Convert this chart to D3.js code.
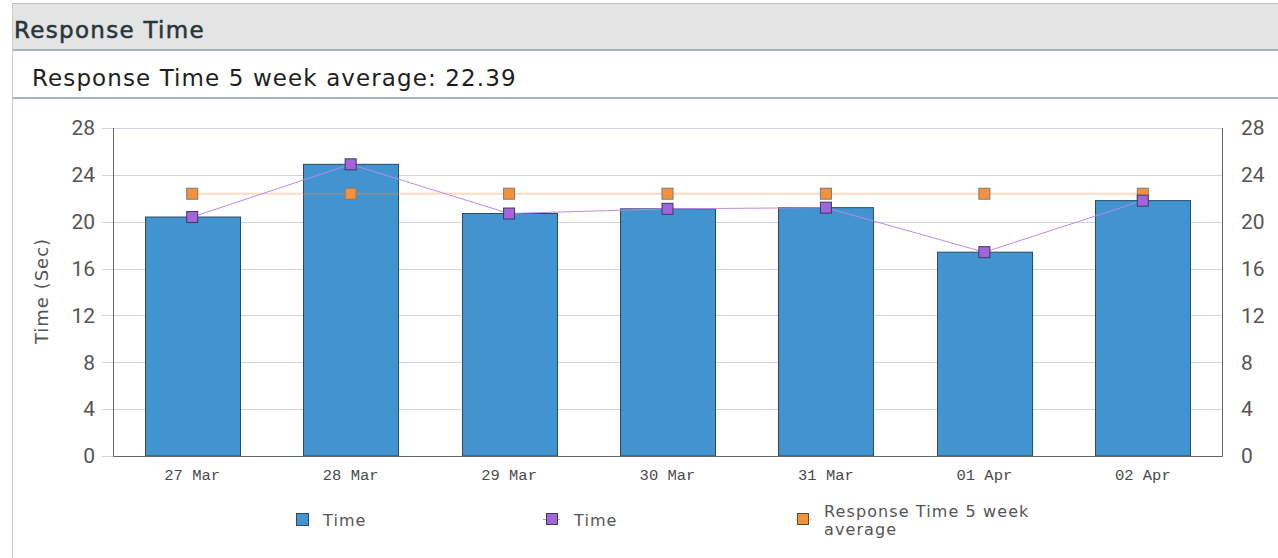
<!DOCTYPE html>
<html>
<head>
<meta charset="utf-8">
<script src="https://cdn.jsdelivr.net/npm/d3@7"></script>
<style>
  body { margin: 0; background: #fff; }
  svg { display: block; }
</style>
</head>
<body>
<svg width="1278" height="558"></svg>
<script>
// chart data
var days = ['27 Mar', '28 Mar', '29 Mar', '30 Mar', '31 Mar', '01 Apr', '02 Apr'];
var timeValues = [20.4, 24.9, 20.7, 21.1, 21.2, 17.4, 21.8];
var averageValue = 22.39;
var yTicks = [0, 4, 8, 12, 16, 20, 24, 28];
var legendLabels = ['Time', 'Time', 'Response Time 5 week', 'average'];

var svg = d3.select('svg');
var svgWidth = +svg.attr('width');
var svgHeight = +svg.attr('height');

var textFont = '"DejaVu Sans", sans-serif';
var numFont = 'Roboto, "Liberation Sans", sans-serif';

// panel frame
svg.append('rect')
    .attr('x', 12).attr('y', 3)
    .attr('width', svgWidth - 12).attr('height', 47)
    .attr('fill', '#e4e4e4');
svg.append('line')
    .attr('x1', 12).attr('x2', svgWidth).attr('y1', 3.5).attr('y2', 3.5)
    .attr('stroke', '#b9c0c6');
svg.append('line')
    .attr('x1', 12).attr('x2', svgWidth).attr('y1', 50).attr('y2', 50)
    .attr('stroke', '#aab3bb').attr('stroke-width', 2);
svg.append('line')
    .attr('x1', 12).attr('x2', svgWidth).attr('y1', 98).attr('y2', 98)
    .attr('stroke', '#aab3bb').attr('stroke-width', 2);
svg.append('line')
    .attr('x1', 12.5).attr('x2', 12.5).attr('y1', 3).attr('y2', svgHeight)
    .attr('stroke', '#c8cdd2');

svg.append('text')
    .attr('x', 14).attr('y', 38)
    .style('font-family', textFont)
    .style('font-size', '23px')
    .style('letter-spacing', '1.3px')
    .attr('fill', '#27353d')
    .attr('stroke', '#27353d')
    .attr('stroke-width', 0.5)
    .text('Response Time');

svg.append('text')
    .attr('x', 32).attr('y', 86)
    .style('font-family', textFont)
    .style('font-size', '23px')
    .style('letter-spacing', '1.1px')
    .attr('fill', '#1e1e1e')
    .text('Response Time 5 week average: ' + averageValue.toFixed(2));

// chart layout
var padding = {t: 128, r: 56, b: 102, l: 113};
var chartWidth = svgWidth - padding.l - padding.r;
var chartHeight = svgHeight - padding.t - padding.b;

var chartG = svg.append('g')
    .attr('transform', 'translate(' + [padding.l, padding.t] + ')');

var xScale = d3.scaleBand()
    .domain(days)
    .range([0, chartWidth])
    .paddingInner(0.4)
    .paddingOuter(0.2);
var yScale = d3.scaleLinear()
    .domain([0, 28])
    .range([chartHeight, 0]);

// gridlines
chartG.append('g')
    .selectAll('line')
    .data(yTicks)
    .enter().append('line')
    .attr('x1', -11).attr('x2', chartWidth)
    .attr('y1', function(d) { return Math.round(yScale(d)) + 0.5; })
    .attr('y2', function(d) { return Math.round(yScale(d)) + 0.5; })
    .attr('stroke', '#d6d2e6')
    .attr('stroke-width', 1);

// axis labels
var yAxisL = chartG.append('g')
    .call(d3.axisLeft(yScale).tickValues(yTicks).tickSize(0).tickPadding(18));
yAxisL.select('.domain').remove();
yAxisL.selectAll('text')
    .style('font-family', numFont)
    .style('font-size', '21px')
    .attr('fill', '#555');

var yAxisR = chartG.append('g')
    .attr('transform', 'translate(' + [chartWidth, 0] + ')')
    .call(d3.axisRight(yScale).tickValues(yTicks).tickSize(0).tickPadding(19));
yAxisR.select('.domain').remove();
yAxisR.selectAll('text')
    .style('font-family', numFont)
    .style('font-size', '21px')
    .attr('fill', '#555');

chartG.append('text')
    .attr('transform', 'translate(' + [-65, chartHeight / 2 - 1] + ') rotate(-90)')
    .attr('text-anchor', 'middle')
    .style('font-family', textFont)
    .style('font-size', '18px')
    .style('letter-spacing', '1px')
    .attr('fill', '#555')
    .text('Time (Sec)');

// bars
chartG.selectAll('.bar')
    .data(timeValues)
    .enter().append('rect')
    .attr('class', 'bar')
    .attr('x', function(d, i) { return Math.round(xScale(days[i])) + 0.5; })
    .attr('y', function(d) { return yScale(d); })
    .attr('width', Math.round(xScale.bandwidth()))
    .attr('height', function(d) { return chartHeight - yScale(d); })
    .attr('fill', '#4194d0')
    .attr('stroke', '#2c4a63')
    .attr('stroke-width', 1);

// axis frame
chartG.append('path')
    .attr('d', 'M0.5,0V' + (chartHeight + 0.5) + 'H' + (chartWidth + 0.5) + 'V0')
    .attr('fill', 'none')
    .attr('stroke', '#666')
    .attr('stroke-width', 1);

// x labels
var xAxisG = chartG.append('g')
    .attr('transform', 'translate(' + [0, chartHeight] + ')')
    .call(d3.axisBottom(xScale).tickSize(0).tickPadding(13));
xAxisG.select('.domain').remove();
xAxisG.selectAll('text')
    .style('font-family', '"Liberation Mono", "Courier New", monospace')
    .style('font-size', '15.5px')
    .attr('fill', '#4a4a4a');

function cx(i) { return xScale(days[i]) + xScale.bandwidth() / 2; }

// average line
chartG.append('path')
    .datum(days)
    .attr('d', d3.line()
        .x(function(d, i) { return cx(i); })
        .y(function() { return yScale(averageValue); }))
    .attr('fill', 'none')
    .attr('stroke', '#f5913a')
    .attr('stroke-opacity', 0.32)
    .attr('stroke-width', 2);

// time line
chartG.append('path')
    .datum(timeValues)
    .attr('d', d3.line()
        .x(function(d, i) { return cx(i); })
        .y(function(d) { return yScale(d); }))
    .attr('fill', 'none')
    .attr('stroke', '#b98ae8')
    .attr('stroke-width', 1);

chartG.selectAll('.avgDot')
    .data(days)
    .enter().append('rect')
    .attr('class', 'avgDot')
    .attr('x', function(d, i) { return cx(i) - 5.5; })
    .attr('y', yScale(averageValue) - 5.5)
    .attr('width', 11).attr('height', 11)
    .attr('fill', '#f5913a')
    .attr('stroke', '#7a7a7a');

chartG.selectAll('.timeDot')
    .data(timeValues)
    .enter().append('rect')
    .attr('class', 'timeDot')
    .attr('x', function(d, i) { return cx(i) - 5.5; })
    .attr('y', function(d) { return yScale(d) - 5.5; })
    .attr('width', 11).attr('height', 11)
    .attr('fill', '#a265dc')
    .attr('stroke', '#3b3b5c');

// legend
var legendG = svg.append('g');
var legendX = [296, 543, 795];

function legendText(x, y, s) {
    legendG.append('text')
        .attr('x', x).attr('y', y)
        .style('font-family', textFont).style('font-size', '16px')
        .style('letter-spacing', '1.1px')
        .attr('fill', '#555').text(s);
}

legendG.append('rect')
    .attr('x', legendX[0] + 0.5).attr('y', 513.5)
    .attr('width', 12).attr('height', 12)
    .attr('fill', '#4194d0').attr('stroke', '#2c4a63');
legendText(legendX[0] + 27, 526, legendLabels[0]);

legendG.append('line')
    .attr('x1', legendX[1]).attr('x2', legendX[1] + 17)
    .attr('y1', 519.5).attr('y2', 519.5)
    .attr('stroke', '#b98ae8');
legendG.append('rect')
    .attr('x', legendX[1] + 3.5).attr('y', 513.5)
    .attr('width', 11).attr('height', 11)
    .attr('fill', '#a265dc').attr('stroke', '#3b3b5c');
legendText(legendX[1] + 31, 526, legendLabels[1]);

legendG.append('line')
    .attr('x1', legendX[2]).attr('x2', legendX[2] + 17)
    .attr('y1', 519.5).attr('y2', 519.5)
    .attr('stroke', '#f5913a').attr('stroke-opacity', 0.32).attr('stroke-width', 2);
legendG.append('rect')
    .attr('x', legendX[2] + 2.5).attr('y', 513.5)
    .attr('width', 11).attr('height', 11)
    .attr('fill', '#f5913a').attr('stroke', '#5a4a3a');
legendText(legendX[2] + 29, 517, legendLabels[2]);
legendText(legendX[2] + 29, 535, legendLabels[3]);
</script>
</body>
</html>
